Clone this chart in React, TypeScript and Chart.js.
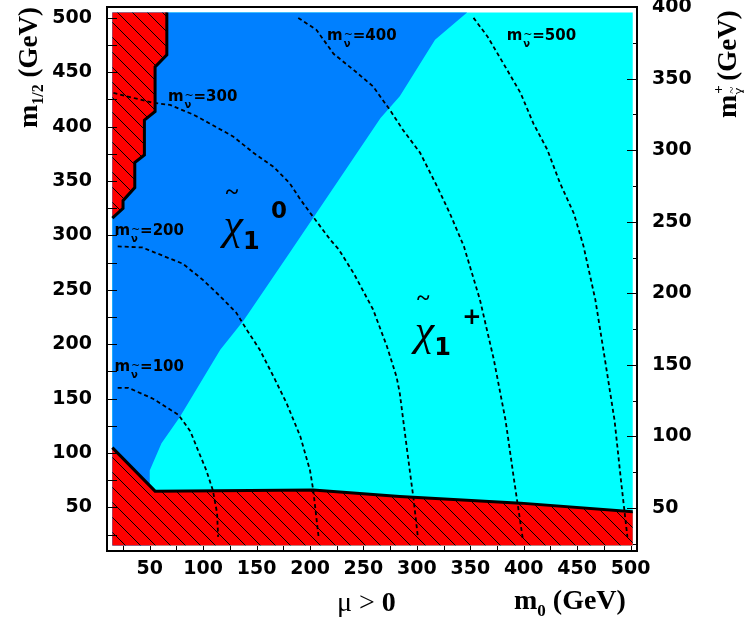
import React, { useEffect, useRef } from "react";
import { Chart, registerables } from "chart.js";

Chart.register(...registerables);

// ---------- axis ranges & ticks ----------
const m0Min = 10;
const m0Max = 506;
const m12Min = 10;
const m12Max = 510;
const mChiMin = 20;
const mChiMax = 400;

const m0Ticks = [50, 100, 150, 200, 250, 300, 350, 400, 450, 500];
const m0Minor = [25, 75, 125, 175, 225, 275, 325, 375, 425, 475];
const m12Ticks = [50, 100, 150, 200, 250, 300, 350, 400, 450, 500];
const m12Minor = [25, 75, 125, 175, 225, 275, 325, 375, 425, 475];
const mChiTicks = [50, 100, 150, 200, 250, 300, 350, 400];
const mChiMinor = [25, 75, 125, 175, 225, 275, 325, 375];

// ---------- scanned region ----------
const scanM0 = [15, 502, 502, 15];
const scanM12 = [15, 15, 505, 505];

// ---------- neutralino / chargino LSP boundary (top -> bottom) ----------
const lspM0 = [347, 317, 284, 266, 183, 138, 116, 78, 61, 50, 50];
const lspM12 = [505, 480, 428, 408, 287, 222, 195, 133, 109, 84, 66];

// ---------- excluded regions (edges) ----------
const upperExclM0 = [66, 66, 55, 55, 45, 45, 36, 36, 25, 25, 15];
const upperExclM12 = [505, 466, 455, 414, 406, 374, 367, 344, 332, 325, 316];
const lowerExclM0 = [15, 55, 203, 284, 397, 502];
const lowerExclM12 = [105, 65, 66, 60, 54, 46];

// ---------- sneutrino iso-mass contours ----------
const snu100M0 = [20, 30, 53, 77, 88, 95, 103, 109, 113, 114];
const snu100M12 = [160, 160, 150, 135, 120, 103, 84, 66, 45, 23];
const snu200M0 = [20, 43, 48, 81, 100, 116, 131, 141, 153, 166, 178, 191, 200, 203, 208];
const snu200M12 = [290, 289, 287, 274, 259, 244, 229, 213, 195, 170, 146, 115, 84, 66, 23];
const snu300M0 = [16, 53, 69, 91, 106, 128, 147, 166, 181, 191, 203, 219, 227, 241, 259, 272, 281, 284, 292, 297, 301];
const snu300M12 = [431, 422, 420, 411, 403, 391, 376, 363, 348, 333, 317, 296, 287, 265, 232, 198, 170, 155, 94, 57, 22];
const snu400M0 = [189, 206, 222, 241, 259, 275, 287, 303, 319, 331, 344, 359, 372, 383, 391, 399];
const snu400M12 = [500, 489, 467, 452, 437, 415, 397, 376, 345, 320, 290, 241, 186, 130, 75, 22];
const snu500M0 = [353, 366, 381, 397, 409, 422, 434, 447, 456, 467, 476, 485, 491, 497];
const snu500M12 = [500, 483, 458, 431, 403, 379, 348, 320, 290, 241, 186, 130, 75, 23];

const snuLabelValues = ["100", "200", "300", "400", "500"];
const snuLabelM0 = [17, 17, 67, 216, 384];
const snuLabelM12 = [175, 300, 424, 480, 480];

const chiLabelSup = ["0", "+"];
const chiLabelM0 = [128, 307];
const chiLabelM12 = [288, 190];

// ---------- colours ----------
const CYAN = "#00ffff";
const BLUE = "#0080ff";
const RED = "#ff0000";

const pts = (xs: number[], ys: number[]) => xs.map((x, i) => ({ x, y: ys[i] }));

function makeHatch(): CanvasPattern | string {
  const s = 15;
  const c = document.createElement("canvas");
  c.width = s;
  c.height = s;
  const g = c.getContext("2d");
  if (!g) return RED;
  g.fillStyle = RED;
  g.fillRect(0, 0, s, s);
  g.strokeStyle = "#000";
  g.lineWidth = 1;
  g.beginPath();
  g.moveTo(0, 0);
  g.lineTo(s, s);
  g.moveTo(-2, s - 2);
  g.lineTo(2, s + 2);
  g.moveTo(s - 2, -2);
  g.lineTo(s + 2, 2);
  g.stroke();
  const p = g.createPattern(c, "repeat");
  return p || RED;
}

type Run = { t: string; f: string; dy: number; dx?: number; adv?: boolean };
function drawRuns(ctx: CanvasRenderingContext2D, runs: Run[]) {
  let x = 0;
  for (const r of runs) {
    ctx.font = r.f;
    ctx.fillText(r.t, x + (r.dx || 0), r.dy);
    if (r.adv !== false) x += ctx.measureText(r.t).width + (r.dx || 0);
  }
}

const decorPlugin = {
  id: "decor",
  afterDatasetsDraw(chart: any) {
    const { ctx, chartArea: a, scales } = chart;
    const xs = scales.x;
    const ys = scales.y;
    const y2 = scales.y2;
    ctx.save();
    ctx.fillStyle = "#000";
    ctx.textAlign = "left";
    ctx.textBaseline = "alphabetic";

    // sneutrino labels
    snuLabelValues.forEach((v, i) => {
      const x = xs.getPixelForValue(snuLabelM0[i]);
      const y = ys.getPixelForValue(snuLabelM12[i]);
      ctx.font = 'bold 15px "DejaVu Sans"';
      ctx.fillText("m", x, y);
      const mw = ctx.measureText("m").width;
      ctx.font = 'bold 10px "DejaVu Sans"';
      ctx.fillText("\u03bd", x + mw + 1, y + 7);
      ctx.font = '11px "DejaVu Sans"';
      ctx.fillText("~", x + mw + 1, y - 2);
      ctx.font = 'bold 15px "DejaVu Sans"';
      ctx.fillText("=" + v, x + mw + 10, y);
    });

    // chi labels
    chiLabelSup.forEach((sup, i) => {
      const x = xs.getPixelForValue(chiLabelM0[i]);
      const y = ys.getPixelForValue(chiLabelM12[i]);
      ctx.textAlign = "center";
      ctx.font = 'italic 44px "Liberation Serif"';
      ctx.fillText("\u03c7", x, y - 10);
      ctx.font = 'bold 24px "Liberation Serif"';
      ctx.fillText("~", x - 1, y - 50);
      ctx.textAlign = "left";
      ctx.font = 'bold 24px "DejaVu Sans"';
      ctx.fillText("1", x + 10, y);
      ctx.font = 'bold 23px "DejaVu Sans"';
      ctx.fillText(sup, x + 38, y - 31);
    });

    // inward tick marks
    ctx.strokeStyle = "#000";
    ctx.lineWidth = 1;
    ctx.beginPath();
    [...m0Ticks, ...m0Minor].forEach((v) => {
      const px = Math.round(xs.getPixelForValue(v)) + 0.5;
      ctx.moveTo(px, a.bottom);
      ctx.lineTo(px, a.bottom - 5);
    });
    [...m12Ticks, ...m12Minor].forEach((v) => {
      const py = Math.round(ys.getPixelForValue(v)) + 0.5;
      ctx.moveTo(a.left, py);
      ctx.lineTo(a.left + 10, py);
    });
    mChiTicks.forEach((v) => {
      const py = Math.round(y2.getPixelForValue(v)) + 0.5;
      ctx.moveTo(a.right, py);
      ctx.lineTo(a.right - 10, py);
    });
    mChiMinor.forEach((v) => {
      const py = Math.round(y2.getPixelForValue(v)) + 0.5;
      ctx.moveTo(a.right, py);
      ctx.lineTo(a.right - 4, py);
    });
    ctx.stroke();

    // frame
    ctx.lineWidth = 2;
    ctx.strokeRect(a.left, a.top, a.right - a.left, a.bottom - a.top);

    // axis titles
    ctx.textAlign = "left";
    ctx.textBaseline = "alphabetic";
    // left
    ctx.save();
    ctx.translate(37, 128);
    ctx.rotate(-Math.PI / 2);
    drawRuns(ctx, [
      { t: "m", f: 'bold 28px "Liberation Serif"', dy: 0 },
      { t: "1/2", f: 'bold 16px "Liberation Serif"', dy: 6 },
      { t: " (GeV)", f: 'bold 27px "Liberation Serif"', dy: 0 },
    ]);
    ctx.restore();
    // right
    ctx.save();
    ctx.translate(736, 118);
    ctx.rotate(-Math.PI / 2);
    drawRuns(ctx, [
      { t: "m", f: 'bold 28px "Liberation Serif"', dy: 0 },
      { t: "+", f: 'bold 15px "Liberation Serif"', dy: -13, adv: false, dx: 1 },
      { t: "~", f: '13px "Liberation Serif"', dy: 0, adv: false, dx: 1 },
      { t: "\u03c7", f: '16px "Liberation Serif"', dy: 8, dx: 0 },
      { t: " (GeV)", f: 'bold 27px "Liberation Serif"', dy: 0 },
    ]);
    ctx.restore();
    // bottom
    ctx.save();
    ctx.translate(337, 611);
    drawRuns(ctx, [
      { t: "\u03bc > ", f: '28px "Liberation Serif"', dy: 0 },
      { t: "0", f: 'bold 28px "Liberation Serif"', dy: 0 },
    ]);
    ctx.restore();
    ctx.save();
    ctx.translate(514, 609);
    drawRuns(ctx, [
      { t: "m", f: 'bold 28px "Liberation Serif"', dy: 0 },
      { t: "0", f: 'bold 17px "Liberation Serif"', dy: 7 },
      { t: " (GeV)", f: 'bold 28px "Liberation Serif"', dy: 0 },
    ]);
    ctx.restore();

    ctx.restore();
  },
};

export default function App() {
  const ref = useRef<HTMLCanvasElement>(null);
  useEffect(() => {
    const canvas = ref.current;
    if (!canvas) return;
    const hatch = makeHatch();
    const last = lspM0.length - 1;
    const bluePoly = [
      { x: scanM0[0], y: scanM12[2] },
      ...pts(lspM0, lspM12),
      { x: lspM0[last], y: scanM12[0] },
      { x: scanM0[0], y: scanM12[0] },
    ];
    const upperPoly = [...pts(upperExclM0, upperExclM12), { x: scanM0[0], y: scanM12[2] }];
    const lowerPoly = [
      ...pts(lowerExclM0, lowerExclM12),
      { x: scanM0[1], y: scanM12[0] },
      { x: scanM0[0], y: scanM12[0] },
    ];
    const area = (label: string, data: any[], bg: any, order: number) => ({
      label,
      data,
      backgroundColor: bg,
      borderColor: "rgba(0,0,0,0)",
      borderWidth: 0,
      fill: "shape",
      pointRadius: 0,
      tension: 0,
      order,
    });
    const line = (label: string, data: any[], width: number, dash: number[], order: number) => ({
      label,
      data,
      borderColor: "#000",
      borderWidth: width,
      borderDash: dash,
      borderCapStyle: "butt",
      borderJoinStyle: "miter",
      fill: false,
      pointRadius: 0,
      tension: 0,
      order,
    });
    const tickFont = { family: "DejaVu Sans", weight: "bold", size: 19 };
    const noPadV = (s: any) => {
      s.paddingTop = 0;
      s.paddingBottom = 0;
    };
    const chart = new Chart(canvas, {
      type: "line",
      data: {
        datasets: [
          area("scan", pts(scanM0, scanM12), CYAN, 10),
          area("neutralino LSP", bluePoly, BLUE, 9),
          area("excluded (upper)", upperPoly, hatch, 8),
          area("excluded (lower)", lowerPoly, hatch, 8),
          line("upper edge", pts(upperExclM0, upperExclM12), 3, [], 5),
          line("lower edge", pts(lowerExclM0, lowerExclM12), 3, [], 5),
          line("m_snu=100", pts(snu100M0, snu100M12), 1.8, [4, 3], 1),
          line("m_snu=200", pts(snu200M0, snu200M12), 1.8, [4, 3], 1),
          line("m_snu=300", pts(snu300M0, snu300M12), 1.8, [4, 3], 1),
          line("m_snu=400", pts(snu400M0, snu400M12), 1.8, [4, 3], 1),
          line("m_snu=500", pts(snu500M0, snu500M12), 1.8, [4, 3], 1),
        ] as any,
      },
      options: {
        animation: false,
        responsive: false,
        devicePixelRatio: 1,
        events: [],
        layout: { padding: { top: 7, left: 0, right: 0, bottom: 0 } },
        plugins: { legend: { display: false }, tooltip: { enabled: false } },
        scales: {
          x: {
            type: "linear",
            position: "bottom",
            min: m0Min,
            max: m0Max,
            grid: { display: false, drawTicks: false },
            border: { display: false },
            afterBuildTicks: (s: any) => {
              s.ticks = m0Ticks.map((v) => ({ value: v }));
            },
            afterFit: (s: any) => {
              s.height = 68;
              s.paddingLeft = 0;
              s.paddingRight = 0;
            },
            ticks: { color: "#000", font: tickFont, padding: 7, maxRotation: 0, autoSkip: false },
          },
          y: {
            type: "linear",
            position: "left",
            min: m12Min,
            max: m12Max,
            grid: { display: false, drawTicks: false },
            border: { display: false },
            afterBuildTicks: (s: any) => {
              s.ticks = m12Ticks.map((v) => ({ value: v }));
            },
            afterFit: (s: any) => {
              s.width = 107;
              noPadV(s);
            },
            ticks: { color: "#000", font: tickFont, padding: 15, autoSkip: false },
          },
          y2: {
            type: "linear",
            position: "right",
            min: mChiMin,
            max: mChiMax,
            grid: { display: false, drawTicks: false },
            border: { display: false },
            afterBuildTicks: (s: any) => {
              s.ticks = mChiTicks.map((v) => ({ value: v }));
            },
            afterFit: (s: any) => {
              s.width = 107;
              noPadV(s);
            },
            ticks: { color: "#000", font: tickFont, padding: 15, autoSkip: false },
          },
        },
      } as any,
      plugins: [decorPlugin as any],
    });
    return () => chart.destroy();
  }, []);
  return (
    <div style={{ position: "fixed", left: 0, top: 0, width: 744, height: 619, background: "#fff" }}>
      <canvas ref={ref} width={744} height={619} style={{ display: "block", width: 744, height: 619 }} />
    </div>
  );
}
